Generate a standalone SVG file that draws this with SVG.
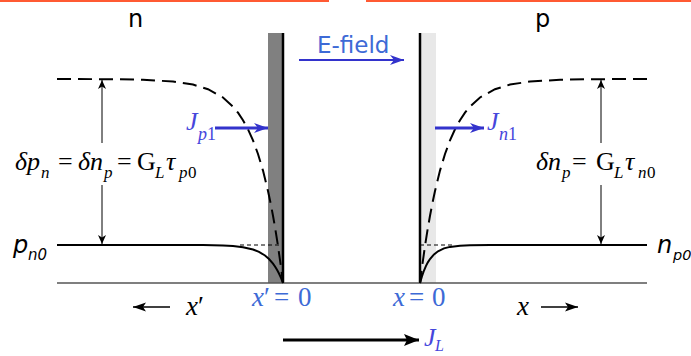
<svg xmlns="http://www.w3.org/2000/svg" width="691" height="356" viewBox="0 0 691 356">
<style>
.sans{font-family:"DejaVu Sans","Verdana",sans-serif}
.math{font-family:"Liberation Serif","Times New Roman",serif}
.it{font-style:italic}
.blk{fill:#000}
.blue{fill:#3D6AD6}
.purp{fill:#4646DC}
.curve{fill:none;stroke:#000;stroke-width:2}
.dash{fill:none;stroke:#000;stroke-width:2;stroke-dasharray:14 7}
.thin{fill:none;stroke:#000;stroke-width:1}
</style>
<defs>
<marker id="bh" markerUnits="userSpaceOnUse" markerWidth="16" markerHeight="12" refX="14" refY="6" orient="auto">
<path d="M0,1 L14,6 L0,11 L4,6 z" fill="#3333CC"/>
</marker>
<marker id="th" markerUnits="userSpaceOnUse" markerWidth="10" markerHeight="10" refX="9" refY="5" orient="auto">
<path d="M0,1 L9,5 L0,9 L2.5,5 z" fill="#000"/>
</marker>
<marker id="kh" markerUnits="userSpaceOnUse" markerWidth="14" markerHeight="10" refX="13" refY="5" orient="auto">
<path d="M0,0.5 L13,5 L0,9.5 L3,5 z" fill="#000"/>
</marker>
<marker id="jh" markerUnits="userSpaceOnUse" markerWidth="16" markerHeight="14" refX="15" refY="7" orient="auto">
<path d="M0,1 L15,7 L0,13 L3,7 z" fill="#000"/>
</marker>
</defs>

<g id="header">
<line x1="0" y1="1" x2="329" y2="1" stroke="#FF5A33" stroke-width="2"/>
<line x1="366" y1="1" x2="691" y2="1" stroke="#FF5A33" stroke-width="2"/>
</g>

<g id="labels-np">
<text class="sans blk" x="128" y="27" font-size="24">n</text>
<text class="sans blk" x="535" y="27" font-size="24">p</text>
</g>

<g id="depletion">
<rect x="268" y="33" width="15" height="250" fill="#808080"/>
<rect x="420" y="33" width="16" height="250" fill="#E8E8E8"/>
<line x1="283" y1="33" x2="283" y2="283" stroke="#000" stroke-width="2.5"/>
<line x1="420" y1="33" x2="420" y2="283" stroke="#000" stroke-width="2.5"/>
</g>

<g id="axis">
<line x1="57" y1="283" x2="647" y2="283" stroke="#555" stroke-width="1.5"/>
</g>

<g id="curves">
<path class="dash" d="M57,79 L113,79.2 L143,79.8 L173,81.5 L193,84.6 L208,89.2 L223,97.5 L233,106.6 L238,112.7 L243,120.2 L248,129.3 L253,140.4 L258,154 L263,170.6 L268,191 L270.5,202.8 L273,215.7 L275.5,230.2 L278,246 L280.5,263.6 L283,283"/>
<path class="dash" d="M647,79 L590,79.2 L560,79.8 L530,81.5 L510,84.6 L495,89.2 L480,97.5 L470,106.6 L465,112.7 L460,120.2 L455,129.3 L450,140.4 L445,154 L440,170.6 L435,191 L432.5,202.8 L430,215.7 L427.5,230.2 L425,246 L422.5,263.6 L420,283"/>
<path class="curve" d="M57,245 L203,245.1 L223,245.5 L233,246.1 L243,247.2 L253,249.5 L259,251.8 L265,255.5 L269,259 L273,263.6 L275,266.5 L277,269.8 L279,273.5 L281,277.9 L283,283"/>
<path class="curve" d="M647,245 L490,245 L470,245.3 L460,245.7 L450,246.9 L444,248.4 L438,251.3 L434,254.4 L430,259 L428,262.1 L426,265.9 L424,270.5 L422,276.1 L420,283"/>
<line x1="240" y1="245" x2="283" y2="245" stroke="#000" stroke-width="1" stroke-dasharray="4 3"/>
<line x1="420" y1="245" x2="452" y2="245" stroke="#000" stroke-width="1" stroke-dasharray="4 3"/>
</g>

<g id="connectors">
<line class="thin" x1="102" y1="143" x2="102" y2="80" marker-end="url(#th)"/>
<line class="thin" x1="102" y1="185" x2="102" y2="244" marker-end="url(#th)"/>
<line class="thin" x1="601" y1="143" x2="601" y2="80" marker-end="url(#th)"/>
<line class="thin" x1="601" y1="185" x2="601" y2="244" marker-end="url(#th)"/>
<line x1="299" y1="60" x2="404" y2="60" stroke="#3333CC" stroke-width="2" marker-end="url(#bh)"/>
<line x1="215" y1="128" x2="268" y2="128" stroke="#3333CC" stroke-width="3" marker-end="url(#bh)"/>
<line x1="435" y1="128" x2="484" y2="128" stroke="#3333CC" stroke-width="3" marker-end="url(#bh)"/>
<line x1="283" y1="340" x2="419" y2="340" stroke="#000" stroke-width="3" marker-end="url(#jh)"/>
<line x1="170" y1="307" x2="133" y2="307" stroke="#000" stroke-width="1.5" marker-end="url(#kh)"/>
<line x1="541" y1="307" x2="578" y2="307" stroke="#000" stroke-width="1.5" marker-end="url(#kh)"/>
</g>

<g id="efield-label">
<text class="sans blue" x="317" y="53" font-size="23">E-field</text>
</g>

<g id="formula-left" class="math blk">
<text y="170" font-size="26"><tspan class="it" x="15">δ</tspan><tspan class="it" x="27">p</tspan><tspan x="58">=</tspan><tspan class="it" x="78">δ</tspan><tspan class="it" x="90">n</tspan><tspan x="117">=</tspan><tspan x="137">G</tspan><tspan class="it" x="166">τ</tspan></text>
<text y="178" font-size="17"><tspan class="it" x="41">n</tspan><tspan class="it" x="104">p</tspan><tspan class="it" x="155">L</tspan><tspan class="it" x="179">p</tspan><tspan x="188">0</tspan></text>
</g>

<g id="formula-right" class="math blk">
<text y="170" font-size="26"><tspan class="it" x="536">δ</tspan><tspan class="it" x="548">n</tspan><tspan x="572">=</tspan><tspan x="596">G</tspan><tspan class="it" x="625">τ</tspan></text>
<text y="178" font-size="17"><tspan class="it" x="562">p</tspan><tspan class="it" x="614">L</tspan><tspan class="it" x="638">n</tspan><tspan x="647">0</tspan></text>
</g>

<g id="current-labels" class="math purp">
<text y="130" font-size="26"><tspan class="it" x="186">J</tspan></text>
<text y="140" font-size="18"><tspan class="it" x="198">p</tspan><tspan x="207">1</tspan></text>
<text y="130" font-size="26"><tspan class="it" x="487">J</tspan></text>
<text y="140" font-size="18"><tspan class="it" x="499">n</tspan><tspan x="508">1</tspan></text>
<text y="346" font-size="26"><tspan class="it" x="424">J</tspan></text>
<text y="351" font-size="16"><tspan class="it" x="435">L</tspan></text>
</g>

<g id="origin-labels" class="math blue">
<text y="306" font-size="27"><tspan class="it" x="252">x</tspan><tspan x="264">′</tspan><tspan x="274">=</tspan><tspan x="298">0</tspan></text>
<text y="306" font-size="27"><tspan class="it" x="393">x</tspan><tspan x="409">=</tspan><tspan x="432">0</tspan></text>
</g>

<g id="axis-labels" class="math blk">
<text y="315" font-size="27"><tspan class="it" x="186">x</tspan><tspan x="198">′</tspan></text>
<text y="315" font-size="27"><tspan class="it" x="517">x</tspan></text>
</g>

<g id="equilibrium-labels" class="sans blk">
<text y="253" font-size="24"><tspan font-style="oblique" x="13">p</tspan></text>
<text y="260" font-size="15"><tspan font-style="oblique" x="28">n0</tspan></text>
<text y="253" font-size="24"><tspan font-style="oblique" x="657">n</tspan></text>
<text y="260" font-size="14.5"><tspan font-style="oblique" x="673">p0</tspan></text>
</g>
</svg>
